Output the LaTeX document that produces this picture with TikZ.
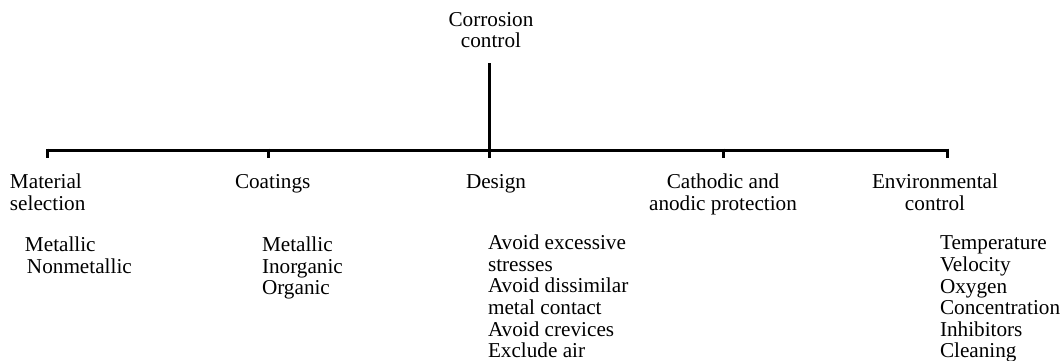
\documentclass[tikz,border=0pt]{standalone}
\usepackage{fontspec}
\setmainfont{Liberation Serif}
\begin{document}
\begin{tikzpicture}[x=0.5pt,y=-0.5pt,
  txt/.style={inner sep=0pt,outer sep=0pt,font=\fontsize{10.6}{10.8}\selectfont},
  lefttxt/.style={txt,align=left,anchor=north west},
  midtxt/.style={txt,align=center,anchor=north},
  bar/.style={line width=1.5pt,line cap=butt}]
\useasboundingbox (0,0) rectangle (1064,360);

% root
\node[midtxt] (root) at (491,12) {Corrosion\\control};

% branch points on the horizontal bar
\coordinate (top) at (489,63);
\coordinate (hub) at (489,150);
\coordinate (jA) at (47,150);
\coordinate (jB) at (268,150);
\coordinate (jC) at (489,150);
\coordinate (jD) at (723,150);
\coordinate (jE) at (947,150);
\coordinate (tA) at (47,158);
\coordinate (tB) at (268,158);
\coordinate (tC) at (489,158);
\coordinate (tD) at (723,158);
\coordinate (tE) at (947,158);

\draw[bar] (top) -- (hub);
\draw[bar] (jA) -- (jE);
\foreach \j/\t in {jA/tA,jB/tB,jC/tC,jD/tD,jE/tE}
  \draw[bar] ([yshift=0.7pt]\j) -- (\t);

% categories
\node[lefttxt] (mat) at (10,174) {Material\\selection};
\node[lefttxt] (coat) at (235,174) {Coatings};
\node[lefttxt] (des) at (466,174) {Design};
\node[midtxt] (cath) at (723,174) {Cathodic and\\anodic protection};
\node[midtxt] (env) at (935,174) {Environmental\\control};

% items
\node[lefttxt] (matlist) at (25,237) {Metallic\\\hspace{1pt}Nonmetallic};
\node[lefttxt] (coatlist) at (262,237) {Metallic\\Inorganic\\Organic};
\node[lefttxt] (deslist) at (488,235) {Avoid excessive\\stresses\\Avoid dissimilar\\metal contact\\Avoid crevices\\Exclude air};
\node[lefttxt] (envlist) at (940,236) {Temperature\\Velocity\\Oxygen\\Concentration\\Inhibitors\\Cleaning};
\end{tikzpicture}
\end{document}
